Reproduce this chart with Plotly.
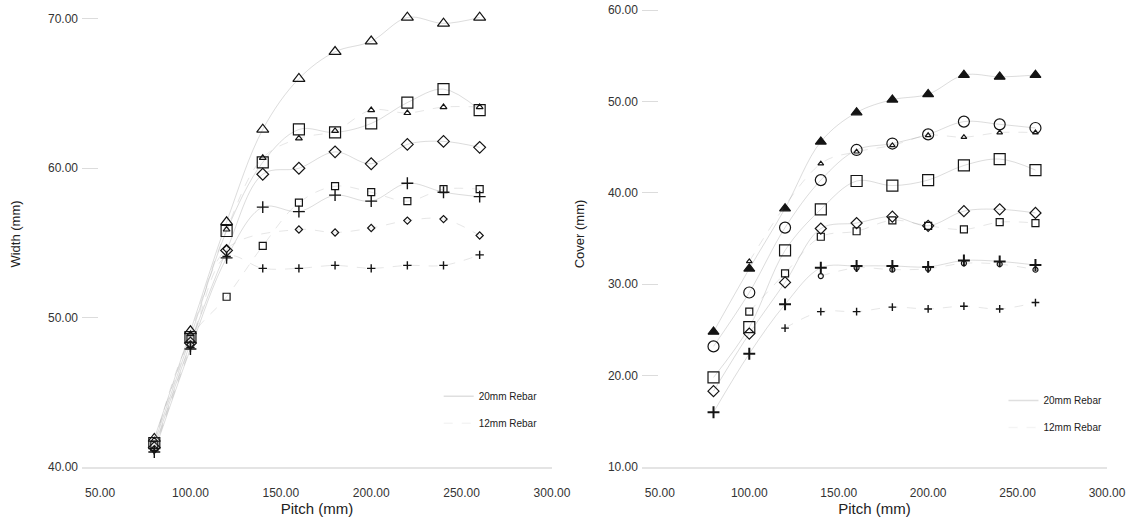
import plotly.graph_objects as go

# Pitch of the links (mm)
pitch = [80, 100, 120, 140, 160, 180, 200, 220, 240, 260]

# Width (mm) - large markers: 20mm rebar, small markers: 12mm rebar
width_tri_20 = [41.9, 49.1, 56.4, 62.6, 66.0, 67.8, 68.5, 70.1, 69.7, 70.1]
width_sq_20 = [41.6, 48.7, 55.8, 60.4, 62.6, 62.4, 63.0, 64.4, 65.3, 63.9]
width_dia_20 = [41.3, 48.3, 54.5, 59.6, 60.0, 61.1, 60.3, 61.6, 61.8, 61.4]
width_plus_20 = [41.0, 47.9, 54.0, 57.4, 57.1, 58.2, 57.8, 59.0, 58.4, 58.1]
width_tri_12 = [41.8, 48.9, 55.9, 60.7, 62.0, 62.5, 63.9, 63.7, 64.1, 64.1]
width_sq_12 = [41.5, 48.6, 51.4, 54.8, 57.7, 58.8, 58.4, 57.8, 58.6, 58.6]
width_dia_12 = [41.2, 48.2, 54.6, None, 55.9, 55.7, 56.0, 56.5, 56.6, 55.5]
width_plus_12 = [41.1, 48.0, 54.1, 53.3, 53.3, 53.5, 53.3, 53.5, 53.5, 54.2]

# Cover (mm)
cover_tri_20 = [24.8, 31.7, 38.3, 45.6, 48.8, 50.2, 50.8, 52.9, 52.7, 52.9]
cover_circ_20 = [23.2, 29.1, 36.2, 41.4, 44.7, 45.4, 46.4, 47.8, 47.5, 47.1]
cover_sq_20 = [19.8, 25.3, 33.7, 38.2, 41.3, 40.8, 41.4, 43.0, 43.7, 42.5]
cover_dia_20 = [18.3, 24.6, 30.2, 36.1, 36.7, 37.4, 36.4, 38.0, 38.2, 37.8]
cover_plus_20 = [16.0, 22.4, 27.8, 31.8, 32.0, 32.0, 31.9, 32.6, 32.5, 32.1]
cover_tri_12 = [None, 32.5, None, 43.2, 44.5, 45.2, 46.3, 46.1, 46.6, 46.6]
cover_sq_12 = [None, 27.0, 31.2, 35.2, 35.8, 37.0, 36.4, 36.0, 36.8, 36.7]
cover_circ_12 = [None, None, None, 30.9, 31.8, 31.6, 31.7, 32.3, 32.2, 31.6]
cover_plus_12 = [None, None, 25.2, 27.0, 27.0, 27.5, 27.3, 27.6, 27.3, 28.0]

x_ticks = [50, 100, 150, 200, 250, 300]
width_ticks = [40, 50, 60, 70]
cover_ticks = [10, 20, 30, 40, 50, 60]

INK = "#141414"
LINE_20 = "rgba(110,110,110,0.24)"
LINE_12 = "rgba(130,130,130,0.2)"
FONT = "Liberation Sans, Arial, sans-serif"

fig = go.Figure()


def add_series(y, symbol, size, xaxis, yaxis, dash, lw=1.2):
    fig.add_trace(go.Scatter(
        x=pitch, y=y, xaxis=xaxis, yaxis=yaxis,
        mode="lines+markers", connectgaps=True, showlegend=False,
        line=dict(color=LINE_20 if dash == "solid" else LINE_12,
                  width=1, dash=dash, shape="spline", smoothing=1.0),
        marker=dict(symbol=symbol, size=size, color=INK,
                    line=dict(color=INK, width=lw)),
        cliponaxis=False,
    ))


# Width panel
add_series(width_tri_20, "triangle-up-open", 10.5, "x", "y", "solid")
add_series(width_sq_20, "square-open", 11, "x", "y", "solid")
add_series(width_dia_20, "diamond-open", 9, "x", "y", "solid")
add_series(width_plus_20, "cross-thin-open", 8.5, "x", "y", "solid", lw=1.4)
add_series(width_tri_12, "triangle-up-open", 6, "x", "y", "dash")
add_series(width_sq_12, "square-open", 7, "x", "y", "dash")
add_series(width_dia_12, "diamond-open", 5.5, "x", "y", "dash")
add_series(width_plus_12, "cross-thin-open", 6, "x", "y", "dash", lw=1.4)

# Cover panel
add_series(cover_tri_20, "triangle-up", 9.5, "x2", "y2", "solid")
add_series(cover_circ_20, "circle-open", 11, "x2", "y2", "solid")
add_series(cover_sq_20, "square-open", 11, "x2", "y2", "solid")
add_series(cover_dia_20, "diamond-open", 8.5, "x2", "y2", "solid")
add_series(cover_plus_20, "cross-thin-open", 8.5, "x2", "y2", "solid", lw=2)
add_series(cover_tri_12, "triangle-up-open", 5, "x2", "y2", "dash")
add_series(cover_sq_12, "square-open", 7, "x2", "y2", "dash")
add_series(cover_circ_12, "circle-open", 5, "x2", "y2", "dash")
add_series(cover_plus_12, "cross-thin-open", 5.5, "x2", "y2", "dash", lw=1.4)

# Legend entries for the two bar sizes, one legend per panel
for xa, ya, lg in (("x", "y", "legend"), ("x2", "y2", "legend2")):
    fig.add_trace(go.Scatter(
        x=[None], y=[None], xaxis=xa, yaxis=ya, mode="lines",
        name="20mm Rebar", legend=lg, legendgroup=lg + "a",
        line=dict(color="rgba(150,150,150,0.3)", width=1.5)))
    fig.add_trace(go.Scatter(
        x=[None], y=[None], xaxis=xa, yaxis=ya, mode="lines",
        name="12mm Rebar", legend=lg, legendgroup=lg + "b",
        line=dict(color="rgba(200,200,200,0.2)", width=1.5, dash="dash")))

axis_x = dict(range=[40, 300], tickvals=x_ticks, tickformat=".2f",
              ticks="", showgrid=False, zeroline=False,
              showline=True, linecolor="#e4e4e4", linewidth=2,
              ticklabelstandoff=14, automargin=False,
              tickfont=dict(size=12, color="#333"),
              title=dict(text="Pitch (mm)", font=dict(size=15, color="#222"),
                         standoff=2))
axis_y = dict(tickformat=".2f", ticks="inside", ticklen=16,
              tickcolor="#dcdcdc", tickwidth=1, showgrid=False,
              zeroline=False, showline=False, automargin=False,
              ticklabelstandoff=3, tickfont=dict(size=12, color="#333"))

fig.update_layout(
    width=1133, height=525,
    margin=dict(l=82, r=26, t=1, b=58),
    paper_bgcolor="white", plot_bgcolor="white",
    font=dict(family=FONT, color="#222"),
    xaxis=dict(axis_x, domain=[0, 0.4585], anchor="y"),
    xaxis2=dict(axis_x, domain=[0.5463, 1], anchor="y2"),
    yaxis=dict(axis_y, range=[40, 71.2], tickvals=width_ticks, anchor="x",
               title=dict(text="Width (mm)", font=dict(size=13), standoff=24)),
    yaxis2=dict(axis_y, range=[10, 61], tickvals=cover_ticks, anchor="x2",
                title=dict(text="Cover (mm)", font=dict(size=13), standoff=20)),
    legend=dict(x=0.348, y=0.183, xanchor="left", yanchor="top",
                bgcolor="rgba(0,0,0,0)", font=dict(size=10, color="#222"),
                tracegroupgap=8, itemwidth=30),
    legend2=dict(x=0.899, y=0.174, xanchor="left", yanchor="top",
                 bgcolor="rgba(0,0,0,0)", font=dict(size=10, color="#222"),
                 tracegroupgap=8, itemwidth=30),
)

fig.write_html("out.html")
